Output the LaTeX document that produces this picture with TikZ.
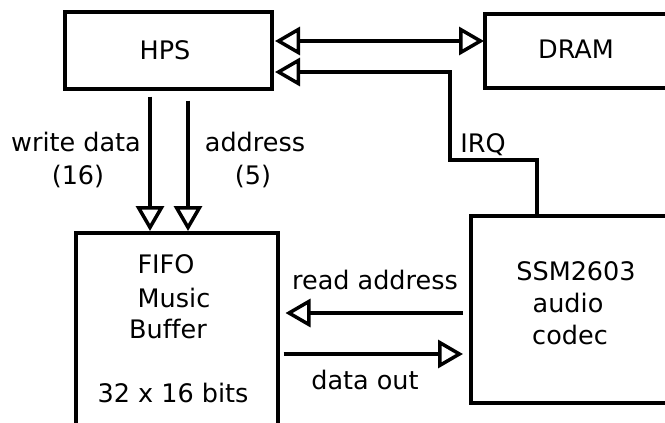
\documentclass[tikz,border=0pt]{standalone}
\usepackage{fontspec}
\setmainfont{DejaVu Sans}[Ligatures=NoCommon]
\usetikzlibrary{arrows.meta,calc}
\begin{document}
\begin{tikzpicture}[x=1pt,y=-1pt,
  block/.style={draw,line width=3.5pt,inner sep=0pt,anchor=north west},
  lbl/.style={anchor=base,inner sep=0pt,font=\fontsize{25.5}{30}\selectfont},
  sig/.style={line width=3.5pt,-{Triangle[open,length=25pt,width=28pt,line width=3.5pt]}},
  dsig/.style={line width=3.5pt,{Triangle[open,length=25pt,width=28pt,line width=3.5pt]}-{Triangle[open,length=25pt,width=28pt,line width=3.5pt]}}]
\useasboundingbox (0,0) rectangle (665,423);
\clip (0,0) rectangle (665,423);

% blocks
\node[block,minimum width=207pt,minimum height=77pt] (hps) at (63,10) {};
\node[block,minimum width=188pt,minimum height=74pt] (dram) at (483,12) {};
\node[block,minimum width=202pt,minimum height=210pt] (fifo) at (74,231) {};
\node[block,minimum width=202pt,minimum height=187pt] (codec) at (469,214) {};

% block labels
\node[lbl] (thps) at (165,59) {HPS};
\node[lbl] (tdram) at (576,58) {DRAM};
\node[lbl] (tfifo) at (166,273) {FIFO};
\node[lbl] (tmusic) at (174,307) {Music};
\node[lbl] (tbuffer) at (168,338) {Buf\kern0ptfer};
\node[lbl] (tsize) at (173,402) {32 x 16 bits};
\node[lbl] (tssm) at (576,280) {SSM2603};
\node[lbl] (taudio) at (568,312) {audio};
\node[lbl] (tcodec) at (570,344) {codec};

% signal labels
\node[lbl] (twd) at (76,151) {write data};
\node[lbl] (twdw) at (78,184) {(16)};
\node[lbl] (tad) at (255,151) {address};
\node[lbl] (tadw) at (253,184) {(5)};
\node[lbl] (tirq) at (483,152) {IRQ};
\node[lbl] (trd) at (375,289) {read address};
\node[lbl] (tdo) at (365,389) {data out};

% routing points
\coordinate (busrow) at (0,41);
\coordinate (irqrow) at (0,72);
\coordinate (wdcol) at (150,0);
\coordinate (adcol) at (188,0);
\coordinate (rdrow) at (0,313);
\coordinate (dorow) at (0,354);
\coordinate (irqup) at (537,160);
\coordinate (irqjog) at (450,160);

% connectors
\draw[dsig,shorten <=1.5pt,shorten >=-1pt] (hps.east |- busrow) -- (dram.west |- busrow);
\draw[sig,shorten >=1.5pt] (codec.north -| irqup) -- (irqup) -- (irqjog) -- (irqjog |- irqrow) -- (hps.east |- irqrow);
\draw[sig,shorten <=6pt,shorten >=0pt] (hps.south -| wdcol) -- (fifo.north -| wdcol);
\draw[sig,shorten <=10pt,shorten >=0pt] (hps.south -| adcol) -- (fifo.north -| adcol);
\draw[sig,shorten <=6pt,shorten >=6pt] (codec.west |- rdrow) -- (fifo.east |- rdrow);
\draw[sig,shorten <=4pt,shorten >=6pt] (fifo.east |- dorow) -- (codec.west |- dorow);
\end{tikzpicture}
\end{document}
